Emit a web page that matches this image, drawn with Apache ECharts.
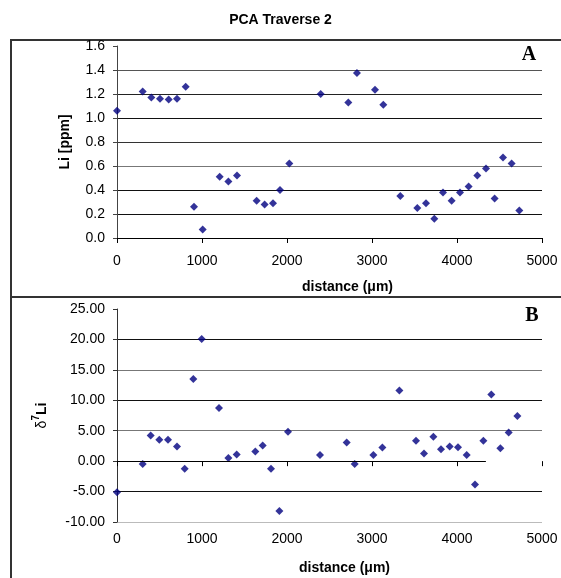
<!DOCTYPE html>
<html>
<head>
<meta charset="utf-8">
<script src="https://cdn.jsdelivr.net/npm/echarts@6/dist/echarts.min.js"></script>
<style>
  html, body { margin: 0; padding: 0; background: #fff; }
  #chart { width: 561px; height: 578px; }
</style>
</head>
<body>
<div id="chart"></div>
<script>
// Panel A - Li concentration along the traverse
var liDist = [0, 302, 404, 506, 608, 706, 808, 906, 1008, 1208, 1310, 1412, 1643, 1737, 1835, 1918,
  2027, 2396, 2721, 2823, 3035, 3133, 3333, 3533, 3635, 3733, 3835, 3937, 4035, 4137, 4239, 4341,
  4443, 4541, 4643, 4733];
var liPpm = [1.06, 1.22, 1.17, 1.16, 1.155, 1.16, 1.26, 0.26, 0.07, 0.51, 0.47, 0.52, 0.31, 0.28, 0.29, 0.40,
  0.62, 1.20, 1.13, 1.375, 1.235, 1.11, 0.35, 0.25, 0.29, 0.16, 0.38, 0.31, 0.38, 0.43, 0.52, 0.58,
  0.33, 0.67, 0.62, 0.23];

// Panel B - d7Li along the traverse
var d7Dist = [0, 302, 396, 498, 600, 706, 796, 898, 996, 1200, 1310, 1408, 1627, 1714, 1812, 1910,
  2012, 2388, 2702, 2796, 3016, 3122, 3322, 3518, 3612, 3722, 3812, 3914, 4012, 4114, 4212, 4310,
  4404, 4510, 4608, 4710];
var d7Li = [-5.1, -0.45, 4.2, 3.5, 3.5, 2.4, -1.27, 13.5, 20.05, 8.75, 0.5, 1.1, 1.6, 2.55, -1.27, -8.2,
  4.85, 1.0, 3.05, -0.45, 1.0, 2.25, 11.6, 3.35, 1.25, 4.0, 1.95, 2.4, 2.3, 1.0, -3.85, 3.35,
  10.95, 2.1, 4.7, 7.4];

// ticks
var distTicks = [0, 1000, 2000, 3000, 4000, 5000];
var liTicks = [0, 0.2, 0.4, 0.6, 0.8, 1.0, 1.2, 1.4, 1.6];
var d7Ticks = [-10, -5, 0, 5, 10, 15, 20, 25];
// the zero line in panel B stops short of the right edge
var zeroLineEnd = 4340;

var font = "Liberation Sans, Arial, sans-serif";
var markColor = "#000080";

function pairs(xs, ys) {
  return xs.map(function (x, i) { return [x, ys[i]]; });
}

function plain(v) { return String(v); }

var chart = echarts.init(document.getElementById("chart"));

var option = {
  animation: false,
  backgroundColor: "#fff",
  title: {
    text: "PCA Traverse 2",
    left: "center",
    top: 8,
    textStyle: { fontFamily: font, fontSize: 14, fontWeight: "bold", color: "#000" }
  },
  graphic: [
    { type: "rect", shape: { x: 11, y: 40, width: 600, height: 257 },
      style: { fill: "none", stroke: "#333", lineWidth: 2 } },
    { type: "rect", shape: { x: 11, y: 297, width: 600, height: 300 },
      style: { fill: "none", stroke: "#333", lineWidth: 2 } },
    { type: "text", x: 529, y: 55,
      style: { text: "A", font: "bold 20px Liberation Serif, Times New Roman, serif", fill: "#000",
        textAlign: "center", textVerticalAlign: "middle" } },
    { type: "text", x: 532, y: 316,
      style: { text: "B", font: "bold 20px Liberation Serif, Times New Roman, serif", fill: "#000",
        textAlign: "center", textVerticalAlign: "middle" } }
  ],
  grid: [
    { left: 117, top: 46, width: 425, height: 192, containLabel: false },
    { left: 117, top: 309, width: 425, height: 213, containLabel: false }
  ],
  xAxis: [
    {
      gridIndex: 0, type: "value", position: "bottom",
      min: distTicks[0], max: distTicks[distTicks.length - 1], interval: 1000,
      name: "distance (μm)", nameLocation: "middle", nameGap: 42,
      nameTextStyle: { fontFamily: font, fontSize: 14, fontWeight: "bold", color: "#000", padding: [0, 0, 0, 36] },
      axisLine: { show: true, onZero: false, lineStyle: { color: "#000", width: 1 } },
      axisTick: { show: true, length: 5, lineStyle: { color: "#000" } },
      axisLabel: { fontFamily: font, fontSize: 14, color: "#000", margin: 16, formatter: plain },
      splitLine: { show: false }
    },
    {
      gridIndex: 1, type: "value", position: "bottom",
      min: distTicks[0], max: distTicks[distTicks.length - 1], interval: 1000,
      name: "distance (μm)", nameLocation: "middle", nameGap: 39,
      nameTextStyle: { fontFamily: font, fontSize: 14, fontWeight: "bold", color: "#000", padding: [0, 0, 0, 30] },
      axisLine: { show: false, onZero: false },
      axisTick: { show: false },
      axisLabel: { fontFamily: font, fontSize: 14, color: "#000", margin: 10, formatter: plain },
      splitLine: { show: false }
    },
    {
      gridIndex: 1, type: "value", position: "bottom",
      min: distTicks[0], max: distTicks[distTicks.length - 1], interval: 1000,
      axisLine: { show: false, onZero: true },
      axisTick: { show: true, length: 5, lineStyle: { color: "#000" } },
      axisLabel: { show: false },
      splitLine: { show: false }
    }
  ],
  yAxis: [
    {
      gridIndex: 0, type: "value",
      min: liTicks[0], max: liTicks[liTicks.length - 1], interval: 0.2,
      name: "Li [ppm]", nameLocation: "middle", nameGap: 45,
      nameTextStyle: { fontFamily: font, fontSize: 14, fontWeight: "bold", color: "#000" },
      axisLine: { show: true, lineStyle: { color: "#444", width: 1 } },
      axisTick: { show: true, length: 4, lineStyle: { color: "#444" } },
      axisLabel: { fontFamily: font, fontSize: 14, color: "#000", margin: 12,
        formatter: function (v) { return v.toFixed(1); } },
      splitLine: { show: true, lineStyle: { width: 1,
        color: ["transparent", "#111", "#111", "#777", "#333", "#111", "#222", "#555", "transparent"] } }
    },
    {
      gridIndex: 1, type: "value",
      min: d7Ticks[0], max: d7Ticks[d7Ticks.length - 1], interval: 5,
      name: "{d|δ}{s|7}{b|Li}", nameLocation: "middle", nameGap: 68,
      nameTextStyle: {
        fontFamily: font, fontSize: 14, color: "#000",
        rich: {
          d: { fontFamily: font, fontSize: 14, lineHeight: 18, verticalAlign: "bottom", color: "#000" },
          s: { fontFamily: font, fontSize: 10, lineHeight: 11, fontWeight: "bold", verticalAlign: "top", color: "#000" },
          b: { fontFamily: font, fontSize: 14, lineHeight: 18, verticalAlign: "bottom", fontWeight: "bold", color: "#000" }
        }
      },
      axisLine: { show: true, onZero: false, lineStyle: { color: "#333", width: 1 } },
      axisTick: { show: true, length: 4, lineStyle: { color: "#333" } },
      axisLabel: { fontFamily: font, fontSize: 14, color: "#000", margin: 12,
        formatter: function (v) { return v.toFixed(2); } },
      splitLine: { show: true, lineStyle: { width: 1,
        color: ["#bbb", "#111", "transparent", "#777", "#111", "#777", "#111", "transparent"] } }
    }
  ],
  series: [
    {
      type: "scatter", xAxisIndex: 0, yAxisIndex: 0,
      symbol: "diamond", symbolSize: 8,
      itemStyle: { color: markColor },
      data: pairs(liDist, liPpm)
    },
    {
      type: "scatter", xAxisIndex: 1, yAxisIndex: 1,
      symbol: "diamond", symbolSize: 8,
      itemStyle: { color: markColor },
      data: pairs(d7Dist, d7Li),
      markLine: {
        silent: true, symbol: "none", label: { show: false },
        lineStyle: { color: "#000", width: 1, type: "solid" },
        data: [[{ coord: [0, 0] }, { coord: [zeroLineEnd, 0] }]]
      }
    }
  ]
};

chart.setOption(option);
</script>
</body>
</html>
